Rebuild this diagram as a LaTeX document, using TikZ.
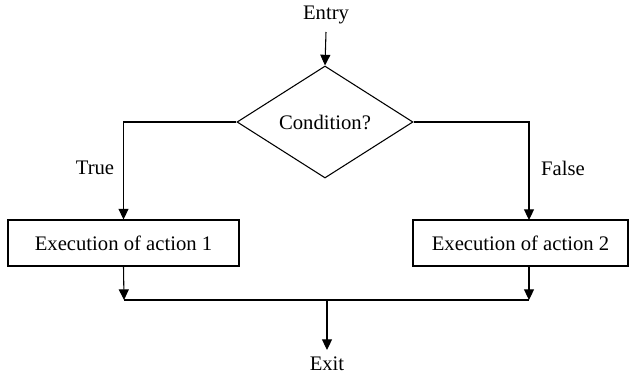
\documentclass[tikz,border=0pt]{standalone}
\usepackage{fontspec}
\setmainfont{Liberation Serif}
\usetikzlibrary{shapes.geometric,arrows.meta}

\begin{document}
\begin{tikzpicture}[x=0.75pt, y=-0.75pt,
        font=\fontsize{15.5}{18}\selectfont,
        arr/.style={-{Triangle[length=8pt,width=7.5pt]}, thick},
        actbox/.style={draw, thick, rectangle, minimum height=34.5pt, inner sep=0pt},
        cond/.style={draw, thick, diamond, minimum width=132pt, minimum height=84pt, inner sep=0pt}]
        \useasboundingbox (0,0) rectangle (632,375);

        \node (entry) at (326,15) {Entry};
        \node [cond] (test) at (325,122) {Condition?};
        \node [actbox, minimum width=173.25pt] (act1) at (123.5,243) {Execution of action 1};
        \node [actbox, minimum width=161.25pt] (act2) at (520.5,243) {Execution of action 2};
        \node [inner sep=1pt] (exit) at (327,364) {Exit};

        \node (true) at (95,168) {True};
        \node (false) at (563,168) {False};

        \coordinate (in1) at (326,32);
        \coordinate (in2) at (529,220);
        \coordinate (out2) at (529,266);
        \coordinate (j1) at (124,300);
        \coordinate (j2) at (529,300);
        \coordinate (jm) at (327,300);
        \coordinate (out) at (327,350);

        \draw [arr] (in1) -- (test.north);
        \draw [arr] (test.west) -| (act1.north);
        \draw [arr] (test.east) -| (in2);
        \draw [arr] (act1.south) -- (j1);
        \draw [arr] (out2) -- (j2);
        \draw [thick] (j1) -- (j2);
        \draw [arr] (jm) -- (out);
\end{tikzpicture}
\end{document}
